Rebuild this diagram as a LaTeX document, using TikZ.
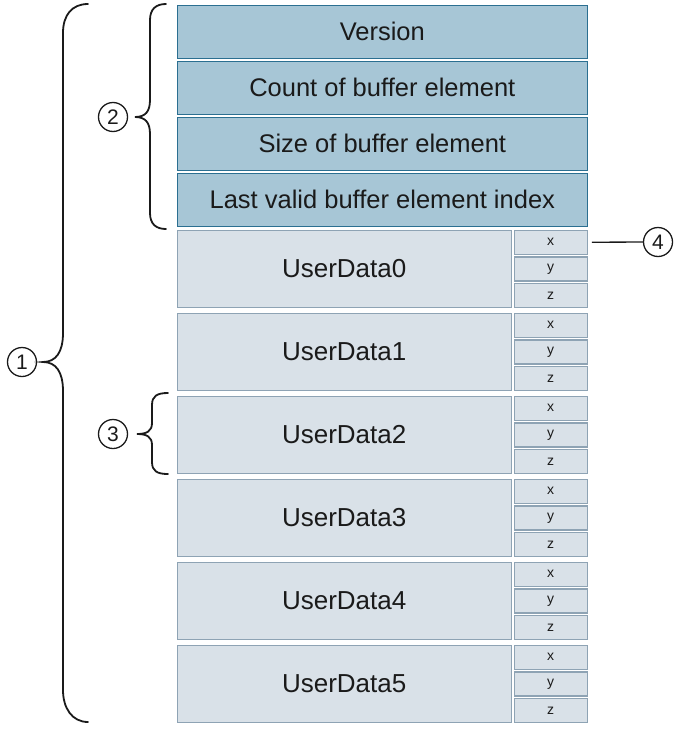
\documentclass[tikz,border=0pt]{standalone}
\usepackage{fontspec}
\setmainfont{Liberation Sans}
\definecolor{hdrfill}{HTML}{A7C6D6}
\definecolor{hdrline}{HTML}{2B6F91}
\definecolor{udfill}{HTML}{D9E1E8}
\definecolor{udline}{HTML}{8EA3B4}
\definecolor{ink}{HTML}{1A1A1A}

\begin{document}
\begin{tikzpicture}[x=1pt,y=-1pt,
  hdr/.style={draw=hdrline, fill=hdrfill, line width=1.6pt, minimum width=410pt,
    minimum height=53pt, anchor=north west, inner sep=0pt, text=ink,
    font=\fontsize{25.5}{28}\selectfont},
  ud/.style={draw=udline, fill=udfill, line width=1.4pt, minimum width=334pt,
    minimum height=77pt, anchor=north west, inner sep=0pt, text=ink,
    font=\fontsize{26}{28}\selectfont},
  comp/.style={draw=udline, fill=udfill, line width=1.4pt, minimum width=73pt,
    minimum height=24pt, anchor=north west, inner sep=0pt, text=ink,
    font=\fontsize{14}{16}\selectfont},
  callout/.style={circle, draw=ink, line width=1.3pt, minimum size=29pt,
    inner sep=0pt, text=ink, font=\fontsize{21}{24}\selectfont},
  brace/.style={draw=ink, line width=1.8pt, line cap=round}]
\useasboundingbox (0,0) rectangle (675,731);

% header fields
\node[hdr] (ver)  at (176.5,4.5)   {Version};
\node[hdr] (cnt)  at (176.5,60.5)  {Count of buffer element};
\node[hdr] (siz)  at (176.5,116.5) {Size of buffer element};
\node[hdr] (last) at (176.5,172.5) {Last valid buffer element index};

% buffer elements with their x/y/z components
\foreach \i in {0,...,5} {
  \node[ud] (ud\i) at (176.5,229.5+83*\i) {UserData\i};
  \node[comp] (ud\i x) at (513.5,229.5+83*\i)      {x};
  \node[comp] (ud\i y) at (513.5,229.5+83*\i+26.7) {y};
  \node[comp] (ud\i z) at (513.5,229.5+83*\i+53.4) {z};
}

% callouts
\node[callout] (c1) at (22,362)  {1};
\node[callout] (c2) at (113,117) {2};
\node[callout] (c3) at (113,434) {3};
\node[callout] (c4) at (658,242) {4};
\draw[draw=ink, line width=1.3pt] ([xshift=4pt]ud0x.east) -- (c4);

% braces
\draw[brace] (88,4) .. controls (72,4) and (63,15) .. (63,33) -- (63,333)
  .. controls (63,352) and (56,362) .. (43,362)
  .. controls (56,362) and (63,372) .. (63,391) -- (63,690)
  .. controls (63,708) and (72,722) .. (88,722);
\draw[brace] (166,4) .. controls (156,4) and (150,9) .. (150,20) -- (150,100)
  .. controls (150,112) and (145,117) .. (135,117)
  .. controls (145,117) and (150,122) .. (150,134) -- (150,213)
  .. controls (150,224) and (156,229) .. (166,229);
\draw[brace] (168,393) .. controls (157,393) and (152,396) .. (152,405) -- (152,423)
  .. controls (152,431) and (147,434) .. (137,434)
  .. controls (147,434) and (152,437) .. (152,445) -- (152,462)
  .. controls (152,471) and (157,474) .. (168,474);
\end{tikzpicture}
\end{document}
